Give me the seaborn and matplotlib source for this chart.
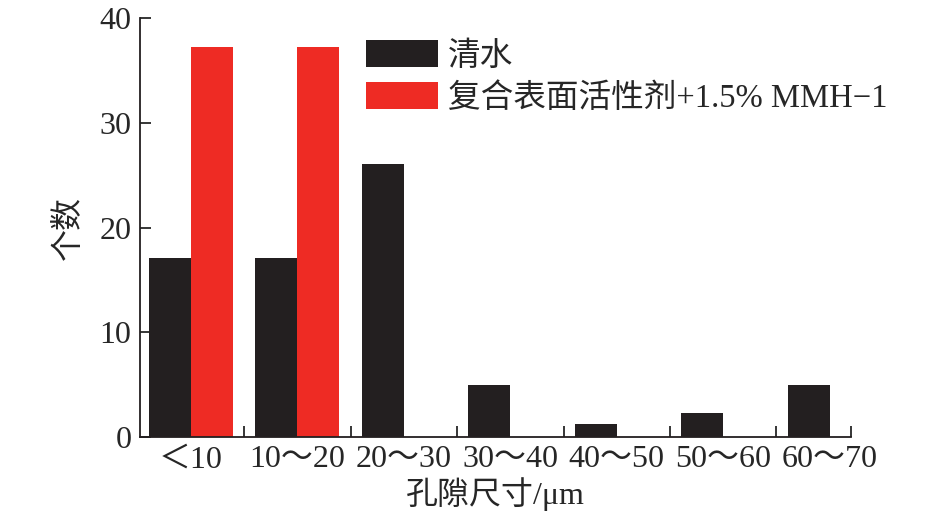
import numpy as np
import pandas as pd
import matplotlib.pyplot as plt
import seaborn as sns

# Data
categories = ["＜10", "10～20", "20～30", "30～40", "40～50", "50～60", "60～70"]
water = [17.1, 17.1, 26.1, 5.0, 1.2, 2.3, 5.0]
surfactant = [37.2, 37.2, 0, 0, 0, 0, 0]
series_names = ["清水", "复合表面活性剂+1.5% MMH−1"]
colors = ["#231f20", "#ee2b24"]

df = pd.DataFrame({
    "size": categories * 2,
    "count": water + surfactant,
    "group": [series_names[0]] * len(categories) + [series_names[1]] * len(categories),
})

sns.set_style("ticks")
plt.rcParams["font.family"] = ["Liberation Serif", "Noto Sans CJK SC", "DejaVu Sans"]

fig = plt.figure(figsize=(9.45, 5.14), dpi=100)
ax = fig.add_axes([0.148, 0.1498, 0.7525, 0.815])

sns.barplot(data=df, x="size", y="count", hue="group", palette=colors,
            width=0.79, saturation=1, linewidth=0, ax=ax, legend=True)

ax.set_ylim(0, 40)
ax.set_xlim(-0.48, 6.2)
ax.set_yticks([0, 10, 20, 30, 40])
ax.set_xticks(list(np.arange(0.5, 6, 1)) + [6.2], minor=True)
ax.tick_params(axis="x", which="major", length=0, labelsize=23, pad=6)
ax.tick_params(axis="x", which="minor", direction="in", length=8, width=1.3)
ax.tick_params(axis="y", direction="in", length=8, width=1.3, labelsize=23, pad=6)
sns.despine(ax=ax)
for side in ["left", "bottom"]:
    ax.spines[side].set_linewidth(1.3)
    ax.spines[side].set_color("#231f20")

ax.set_xlabel("孔隙尺寸/μm", fontsize=23, labelpad=2)
ax.set_ylabel("个数", fontsize=23, labelpad=11)

handles, labels = ax.get_legend_handles_labels()
ax.legend(handles, labels, loc="upper left", bbox_to_anchor=(366 / 945, 1 - 40 / 514),
          bbox_transform=fig.transFigure, frameon=False, fontsize=23.5,
          handlelength=2.2, handleheight=0.9, handletextpad=0.3,
          labelspacing=0.32, borderpad=0, borderaxespad=0)

fig.savefig("out.png", dpi=100)
